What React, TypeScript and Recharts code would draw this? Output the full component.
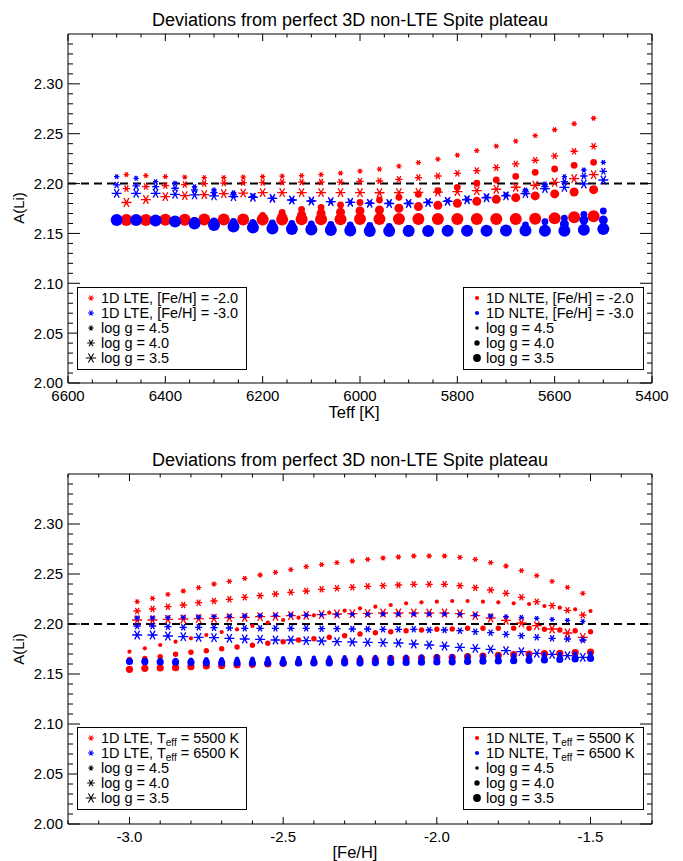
import React from "react";
import { ReferenceArea, ReferenceLine, Scatter, ScatterChart, XAxis, YAxis } from "recharts";

const FONT = '"Liberation Sans", Arial, Helvetica, sans-serif';
const RED = "#ff0000";
const BLUE = "#0000ff";

// ---- upper panel: A(Li) against Teff ----
// red points: [Fe/H] = -2.0, blue points: [Fe/H] = -3.0
const teffFeH2 = [6480, 6440, 6400, 6360, 6320, 6280, 6240, 6200, 6160, 6120, 6080, 6040, 6000, 5960, 5920, 5880, 5840, 5800, 5760, 5720, 5680, 5640, 5600, 5560, 5520];
const teffFeH3 = [6500, 6460, 6420, 6380, 6340, 6300, 6260, 6220, 6180, 6140, 6100, 6060, 6020, 5980, 5940, 5900, 5860, 5820, 5780, 5740, 5700, 5660, 5620, 5580, 5540, 5500];

const lteFeH2g45 = [2.209, 2.208, 2.207, 2.2065, 2.206, 2.206, 2.2065, 2.207, 2.2075, 2.208, 2.209, 2.2105, 2.2125, 2.2145, 2.2175, 2.221, 2.2245, 2.2285, 2.233, 2.2375, 2.2425, 2.248, 2.254, 2.26, 2.2655];
const lteFeH2g40 = [2.195, 2.197, 2.198, 2.199, 2.2, 2.2005, 2.201, 2.201, 2.2015, 2.2015, 2.2015, 2.2015, 2.2022, 2.2026, 2.2043, 2.206, 2.2076, 2.2103, 2.213, 2.216, 2.2197, 2.2234, 2.2277, 2.2324, 2.2374];
const lteFeH2g35 = [2.181, 2.184, 2.187, 2.188, 2.189, 2.19, 2.1905, 2.191, 2.191, 2.191, 2.191, 2.191, 2.1909, 2.1908, 2.191, 2.1912, 2.1915, 2.192, 2.1929, 2.1943, 2.1963, 2.1983, 2.2013, 2.2049, 2.2089];
const nlteFeH2g45 = [2.164, 2.164, 2.164, 2.1645, 2.165, 2.1655, 2.166, 2.168, 2.171, 2.174, 2.176, 2.1785, 2.181, 2.1835, 2.1862, 2.1892, 2.1929, 2.1962, 2.2003, 2.2036, 2.2073, 2.2113, 2.2146, 2.2183, 2.2213];
const nlteFeH2g40 = [2.164, 2.164, 2.164, 2.164, 2.1645, 2.1645, 2.165, 2.1655, 2.167, 2.1685, 2.17, 2.1712, 2.1725, 2.1735, 2.1752, 2.1769, 2.1782, 2.1802, 2.1822, 2.1842, 2.1859, 2.1876, 2.1896, 2.1916, 2.1939];
const nlteFeH2g35 = [2.1635, 2.1635, 2.1638, 2.1638, 2.164, 2.164, 2.164, 2.164, 2.164, 2.1642, 2.1642, 2.1642, 2.1645, 2.1645, 2.1645, 2.1645, 2.1645, 2.1645, 2.1645, 2.1645, 2.1645, 2.1648, 2.1652, 2.1662, 2.1672];

const lteFeH3g45 = [2.2069, 2.2053, 2.202, 2.2003, 2.1969, 2.1936, 2.1909, 2.1876, 2.1852, 2.1835, 2.1825, 2.1819, 2.1812, 2.1806, 2.1804, 2.1806, 2.1815, 2.1829, 2.1845, 2.1865, 2.189, 2.1936, 2.1996, 2.207, 2.2136, 2.2213];
const lteFeH3g40 = [2.1986, 2.1976, 2.197, 2.1953, 2.1936, 2.1909, 2.1886, 2.1869, 2.1852, 2.1835, 2.1825, 2.1819, 2.1812, 2.1805, 2.1802, 2.1802, 2.1812, 2.1825, 2.1842, 2.1862, 2.1882, 2.1916, 2.197, 2.202, 2.2076, 2.2123];
const lteFeH3g35 = [2.1902, 2.1902, 2.1902, 2.1892, 2.1886, 2.1876, 2.1869, 2.1862, 2.1852, 2.1835, 2.1825, 2.1819, 2.1812, 2.1802, 2.18, 2.18, 2.181, 2.1822, 2.1838, 2.1858, 2.1876, 2.19, 2.195, 2.1962, 2.1996, 2.2036];
const nlteFeH3g45 = [2.1645, 2.1645, 2.164, 2.1635, 2.163, 2.1625, 2.162, 2.161, 2.1605, 2.16, 2.1595, 2.159, 2.1585, 2.158, 2.157, 2.155, 2.154, 2.1535, 2.1535, 2.1535, 2.154, 2.1585, 2.1618, 2.1652, 2.1692, 2.1725];
const nlteFeH3g40 = [2.164, 2.164, 2.1635, 2.163, 2.162, 2.161, 2.16, 2.159, 2.158, 2.157, 2.1565, 2.156, 2.1555, 2.155, 2.1545, 2.154, 2.1535, 2.153, 2.153, 2.153, 2.1532, 2.1535, 2.154, 2.1595, 2.1635, 2.1635];
const nlteFeH3g35 = [2.1635, 2.1635, 2.163, 2.162, 2.16, 2.1585, 2.157, 2.156, 2.155, 2.1545, 2.154, 2.1535, 2.153, 2.1525, 2.1525, 2.1525, 2.1525, 2.1528, 2.1528, 2.1528, 2.153, 2.153, 2.1528, 2.1528, 2.1538, 2.1545];

// ---- lower panel: A(Li) against [Fe/H] ----
// red points: Teff = 5500 K, blue points: Teff = 6500 K
const fehLte = [-2.975, -2.925, -2.875, -2.825, -2.775, -2.725, -2.675, -2.625, -2.575, -2.525, -2.475, -2.425, -2.375, -2.325, -2.275, -2.225, -2.175, -2.125, -2.075, -2.025, -1.975, -1.925, -1.875, -1.825, -1.775, -1.725, -1.675, -1.625, -1.575, -1.525];
const fehNlte = [-3.0, -2.95, -2.9, -2.85, -2.8, -2.75, -2.7, -2.65, -2.6, -2.55, -2.5, -2.45, -2.4, -2.35, -2.3, -2.25, -2.2, -2.15, -2.1, -2.05, -2.0, -1.95, -1.9, -1.85, -1.8, -1.75, -1.7, -1.65, -1.6, -1.55, -1.5];

const lteT55g45 = [2.2223, 2.2257, 2.2297, 2.233, 2.2363, 2.24, 2.2427, 2.2457, 2.249, 2.2517, 2.2543, 2.2573, 2.2593, 2.2613, 2.263, 2.2647, 2.266, 2.267, 2.268, 2.268, 2.268, 2.2667, 2.2647, 2.2613, 2.258, 2.2533, 2.2483, 2.2427, 2.2367, 2.2307];
const lteT55g40 = [2.213, 2.215, 2.2173, 2.219, 2.2213, 2.223, 2.2247, 2.2267, 2.2283, 2.23, 2.2317, 2.233, 2.2347, 2.2357, 2.2367, 2.2377, 2.2383, 2.239, 2.2397, 2.2397, 2.2397, 2.2383, 2.2363, 2.234, 2.2307, 2.2267, 2.2223, 2.2183, 2.2137, 2.209];
const lteT55g35 = [2.204, 2.204, 2.2047, 2.205, 2.2053, 2.2057, 2.2063, 2.2067, 2.2073, 2.2077, 2.2083, 2.2087, 2.2093, 2.21, 2.2103, 2.2107, 2.211, 2.211, 2.211, 2.211, 2.211, 2.2103, 2.2083, 2.206, 2.2037, 2.201, 2.1983, 2.195, 2.191, 2.1867];
const nlteT55g45 = [2.1723, 2.1757, 2.179, 2.1823, 2.1857, 2.189, 2.192, 2.1947, 2.198, 2.2013, 2.204, 2.2063, 2.2087, 2.2113, 2.2133, 2.2157, 2.2173, 2.219, 2.2207, 2.2217, 2.2223, 2.223, 2.223, 2.2223, 2.2217, 2.2207, 2.22, 2.218, 2.2163, 2.2147, 2.213];
const nlteT55g40 = [2.1645, 2.1655, 2.1673, 2.1697, 2.1717, 2.1733, 2.1753, 2.177, 2.1787, 2.1807, 2.1823, 2.184, 2.1853, 2.1867, 2.1883, 2.19, 2.1913, 2.1923, 2.1933, 2.194, 2.1947, 2.195, 2.1957, 2.1957, 2.1957, 2.1957, 2.1957, 2.1947, 2.194, 2.1933, 2.1923];
const nlteT55g35 = [2.1547, 2.1557, 2.156, 2.1563, 2.1573, 2.158, 2.1583, 2.159, 2.1597, 2.16, 2.1607, 2.1613, 2.162, 2.1627, 2.1633, 2.164, 2.1647, 2.1653, 2.1655, 2.166, 2.1663, 2.1667, 2.1673, 2.168, 2.1687, 2.1693, 2.17, 2.1703, 2.1707, 2.1713, 2.172];

const lteT65g45 = [2.206, 2.206, 2.2063, 2.2067, 2.207, 2.2073, 2.2077, 2.208, 2.2083, 2.2087, 2.209, 2.209, 2.2093, 2.2093, 2.2097, 2.2097, 2.21, 2.21, 2.21, 2.21, 2.21, 2.2097, 2.209, 2.208, 2.2073, 2.2067, 2.2057, 2.2047, 2.2037, 2.2027];
const lteT65g40 = [2.198, 2.198, 2.1973, 2.1967, 2.1967, 2.1963, 2.196, 2.1957, 2.1957, 2.1957, 2.1957, 2.1957, 2.1953, 2.1953, 2.195, 2.195, 2.1947, 2.1947, 2.1947, 2.194, 2.194, 2.1933, 2.1923, 2.1913, 2.1897, 2.1883, 2.1867, 2.1857, 2.185, 2.184];
const lteT65g35 = [2.189, 2.189, 2.188, 2.1873, 2.1867, 2.1863, 2.1857, 2.185, 2.1847, 2.184, 2.184, 2.1833, 2.183, 2.1823, 2.182, 2.1817, 2.1813, 2.181, 2.18, 2.179, 2.178, 2.1767, 2.1757, 2.1747, 2.1733, 2.1723, 2.1707, 2.1697, 2.1683, 2.1667];
const nlteT65g45 = [2.1638, 2.164, 2.164, 2.1642, 2.1645, 2.1648, 2.165, 2.1653, 2.1655, 2.1658, 2.166, 2.1662, 2.1663, 2.1666, 2.1668, 2.167, 2.1671, 2.1672, 2.1674, 2.1676, 2.1678, 2.168, 2.1683, 2.1686, 2.169, 2.1693, 2.1697, 2.17, 2.1703, 2.1706, 2.171];
const nlteT65g40 = [2.1632, 2.1632, 2.1633, 2.1633, 2.1634, 2.1635, 2.1636, 2.1637, 2.1638, 2.164, 2.164, 2.1641, 2.1642, 2.1643, 2.1644, 2.1645, 2.1646, 2.1647, 2.1648, 2.165, 2.1652, 2.1654, 2.1656, 2.1658, 2.166, 2.1662, 2.1665, 2.1668, 2.167, 2.1675, 2.168];
const nlteT65g35 = [2.1625, 2.1623, 2.162, 2.1618, 2.1616, 2.1614, 2.1612, 2.161, 2.161, 2.161, 2.161, 2.161, 2.161, 2.161, 2.1612, 2.1612, 2.1614, 2.1615, 2.1616, 2.1618, 2.162, 2.1622, 2.1625, 2.1628, 2.163, 2.1633, 2.1637, 2.164, 2.1645, 2.165, 2.1655];

// axis ticks
const yMajor = [2.0, 2.05, 2.1, 2.15, 2.2, 2.25, 2.3];
const teffMajor = [5400, 5600, 5800, 6000, 6200, 6400, 6600];
const fehMajor = [-3.0, -2.5, -2.0, -1.5];
const yTicks = Array.from({ length: 35 }, (_, i) => +(2 + i * 0.01).toFixed(2));
const teffTicks = Array.from({ length: 25 }, (_, i) => 5400 + i * 50);
const fehTicks = Array.from({ length: 20 }, (_, i) => +(-3.2 + i * 0.1).toFixed(1));

const PLOT_W = 584;

type Series = { name: string; xs: number[]; ys: number[]; kind: "star" | "dot"; r: number; color: string };

function Asterisk({ cx, cy, r, color, w = 1.3 }: { cx: number; cy: number; r: number; color: string; w?: number }) {
  const dx = r * 0.5;
  const dy = r * 0.866;
  return (
    <path
      d={`M${cx - r},${cy}L${cx + r},${cy}M${cx - dx},${cy - dy}L${cx + dx},${cy + dy}M${cx - dx},${cy + dy}L${cx + dx},${cy - dy}`}
      stroke={color}
      strokeWidth={w}
      fill="none"
    />
  );
}

const isIn = (list: number[], v: number) => list.some((m) => Math.abs(m - v) < 1e-6);

function makeYTick() {
  return (p: any) => {
    const v = p.payload.value;
    const major = isIn(yMajor, v);
    const len = major ? 12 : 5;
    return (
      <g>
        <line x1={p.x} y1={p.y} x2={p.x + len} y2={p.y} stroke="#000" />
        <line x1={p.x + PLOT_W} y1={p.y} x2={p.x + PLOT_W - len} y2={p.y} stroke="#000" />
        {major && (
          <text x={p.x - 5} y={p.y} dy="0.36em" textAnchor="end" fontSize={15} fontFamily={FONT} fill="#000">
            {v.toFixed(2)}
          </text>
        )}
      </g>
    );
  };
}

function makeXTick(plotH: number, majors: number[], digits: number) {
  return (p: any) => {
    const v = p.payload.value;
    const major = isIn(majors, v);
    const len = major ? 7 : 3.5;
    return (
      <g>
        <line x1={p.x} y1={p.y} x2={p.x} y2={p.y - len} stroke="#000" />
        <line x1={p.x} y1={p.y - plotH} x2={p.x} y2={p.y - plotH + len} stroke="#000" />
        {major && (
          <text x={p.x} y={p.y + 18} textAnchor="middle" fontSize={15} fontFamily={FONT} fill="#000">
            {v.toFixed(digits)}
          </text>
        )}
      </g>
    );
  };
}

type PanelProps = {
  height: number;
  bottom: number;
  xAxisHeight: number;
  xDomain: [number, number];
  reversed: boolean;
  xTicks: number[];
  xMajor: number[];
  digits: number;
  series: Series[];
};

function Panel({ height, bottom, xAxisHeight, xDomain, reversed, xTicks, xMajor, digits, series }: PanelProps) {
  const plotH = height - 34 - bottom - xAxisHeight;
  return (
    <ScatterChart width={683} height={height} margin={{ top: 34, right: 31, bottom, left: 0 }}>
      <XAxis
        type="number"
        dataKey="x"
        domain={xDomain}
        reversed={reversed}
        allowDataOverflow
        ticks={xTicks}
        interval={0}
        tickSize={0}
        tickMargin={0}
        axisLine={false}
        height={xAxisHeight}
        tick={makeXTick(plotH, xMajor, digits)}
      />
      <YAxis
        type="number"
        dataKey="y"
        domain={[2, 2.35]}
        allowDataOverflow
        ticks={yTicks}
        interval={0}
        tickSize={0}
        tickMargin={0}
        axisLine={false}
        width={68}
        tick={makeYTick()}
      />
      <ReferenceArea x1={xDomain[0]} x2={xDomain[1]} y1={2} y2={2.35} fill="none" stroke="#000" strokeWidth={1} />
      <ReferenceLine y={2.2} stroke="#000" strokeWidth={2} strokeDasharray="8 5" />
      {series.map((s) => (
        <Scatter
          key={s.name}
          name={s.name}
          data={s.xs.map((x, i) => ({ x, y: s.ys[i] }))}
          isAnimationActive={false}
          shape={(p: any) =>
            s.kind === "star" ? (
              <Asterisk cx={p.cx} cy={p.cy} r={s.r} color={s.color} />
            ) : (
              <circle cx={p.cx} cy={p.cy} r={s.r} fill={s.color} />
            )
          }
        />
      ))}
    </ScatterChart>
  );
}

const topSeries: Series[] = [
  { name: "lte2_45", xs: teffFeH2, ys: lteFeH2g45, kind: "star", r: 2.7, color: RED },
  { name: "lte2_40", xs: teffFeH2, ys: lteFeH2g40, kind: "star", r: 3.7, color: RED },
  { name: "lte2_35", xs: teffFeH2, ys: lteFeH2g35, kind: "star", r: 5, color: RED },
  { name: "lte3_45", xs: teffFeH3, ys: lteFeH3g45, kind: "star", r: 2.7, color: BLUE },
  { name: "lte3_40", xs: teffFeH3, ys: lteFeH3g40, kind: "star", r: 3.7, color: BLUE },
  { name: "lte3_35", xs: teffFeH3, ys: lteFeH3g35, kind: "star", r: 5, color: BLUE },
  { name: "nlte2_35", xs: teffFeH2, ys: nlteFeH2g35, kind: "dot", r: 6, color: RED },
  { name: "nlte2_40", xs: teffFeH2, ys: nlteFeH2g40, kind: "dot", r: 4.5, color: RED },
  { name: "nlte2_45", xs: teffFeH2, ys: nlteFeH2g45, kind: "dot", r: 3.4, color: RED },
  { name: "nlte3_35", xs: teffFeH3, ys: nlteFeH3g35, kind: "dot", r: 6, color: BLUE },
  { name: "nlte3_40", xs: teffFeH3, ys: nlteFeH3g40, kind: "dot", r: 4.5, color: BLUE },
  { name: "nlte3_45", xs: teffFeH3, ys: nlteFeH3g45, kind: "dot", r: 3.4, color: BLUE },
];

const bottomSeries: Series[] = [
  { name: "lte55_45", xs: fehLte, ys: lteT55g45, kind: "star", r: 2.7, color: RED },
  { name: "lte55_40", xs: fehLte, ys: lteT55g40, kind: "star", r: 3.6, color: RED },
  { name: "lte55_35", xs: fehLte, ys: lteT55g35, kind: "star", r: 5, color: RED },
  { name: "lte65_45", xs: fehLte, ys: lteT65g45, kind: "star", r: 2.7, color: BLUE },
  { name: "lte65_40", xs: fehLte, ys: lteT65g40, kind: "star", r: 3.6, color: BLUE },
  { name: "lte65_35", xs: fehLte, ys: lteT65g35, kind: "star", r: 5, color: BLUE },
  { name: "nlte55_35", xs: fehNlte, ys: nlteT55g35, kind: "dot", r: 3.6, color: RED },
  { name: "nlte55_40", xs: fehNlte, ys: nlteT55g40, kind: "dot", r: 2.7, color: RED },
  { name: "nlte55_45", xs: fehNlte, ys: nlteT55g45, kind: "dot", r: 2.1, color: RED },
  { name: "nlte65_35", xs: fehNlte, ys: nlteT65g35, kind: "dot", r: 3.6, color: BLUE },
  { name: "nlte65_40", xs: fehNlte, ys: nlteT65g40, kind: "dot", r: 2.7, color: BLUE },
  { name: "nlte65_45", xs: fehNlte, ys: nlteT65g45, kind: "dot", r: 2.1, color: BLUE },
];

type Row = { mark: (cx: number, cy: number) => React.ReactNode; label: React.ReactNode };

function LegendRows({ top, symX, textX, rows }: { top: number; symX: number; textX: number; rows: Row[] }) {
  return (
    <g>
      {rows.map((row, i) => {
        const cy = top + i * 15;
        return (
          <g key={i}>
            {row.mark(symX, cy)}
            <text x={textX} y={cy + 5.2} fontSize={14.5} fontFamily={FONT} fill="#000">
              {row.label}
            </text>
          </g>
        );
      })}
    </g>
  );
}

const star = (r: number, color: string) => (cx: number, cy: number) => <Asterisk cx={cx} cy={cy} r={r} color={color} w={1.1} />;
const dot = (r: number, color: string) => (cx: number, cy: number) => <circle cx={cx} cy={cy} r={r} fill={color} />;

const teffLabel = (t: string) => (
  <>
    T<tspan fontSize={10} dy={3}>eff</tspan>
    <tspan dy={-3}>{` = ${t} K`}</tspan>
  </>
);

function Overlay() {
  const gRows = (mk: typeof star, sizes: number[]): Row[] => [
    { mark: mk(sizes[0], "#000"), label: "log g = 4.5" },
    { mark: mk(sizes[1], "#000"), label: "log g = 4.0" },
    { mark: mk(sizes[2], "#000"), label: "log g = 3.5" },
  ];
  return (
    <svg width={683} height={861} style={{ position: "absolute", left: 0, top: 0, pointerEvents: "none" }}>
      <text x={350} y={26} textAnchor="middle" fontSize={18} fontFamily={FONT}>
        Deviations from perfect 3D non-LTE Spite plateau
      </text>
      <text x={350} y={466} textAnchor="middle" fontSize={18} fontFamily={FONT}>
        Deviations from perfect 3D non-LTE Spite plateau
      </text>
      <text x={19} y={208} dy="0.36em" textAnchor="middle" fontSize={15} fontFamily={FONT} transform="rotate(-90 19 208)">
        A(Li)
      </text>
      <text x={19} y={649} dy="0.36em" textAnchor="middle" fontSize={15} fontFamily={FONT} transform="rotate(-90 19 649)">
        A(Li)
      </text>
      <text x={354} y={418} textAnchor="middle" fontSize={16.5} fontFamily={FONT}>
        Teff [K]
      </text>
      <text x={355} y={858} textAnchor="middle" fontSize={16.5} fontFamily={FONT}>
        [Fe/H]
      </text>

      <rect x={77.5} y={287.5} width={169} height={82} fill="#fff" stroke="#000" />
      <LegendRows
        top={298}
        symX={91}
        textX={101}
        rows={[
          { mark: star(3, RED), label: "1D LTE, [Fe/H] = -2.0" },
          { mark: star(3, BLUE), label: "1D LTE, [Fe/H] = -3.0" },
          ...gRows(star, [2.8, 3.8, 5.2]),
        ]}
      />
      <rect x={463.5} y={287.5} width={180} height={82} fill="#fff" stroke="#000" />
      <LegendRows
        top={298}
        symX={477}
        textX={486}
        rows={[
          { mark: dot(2.1, RED), label: "1D NLTE, [Fe/H] = -2.0" },
          { mark: dot(2.1, BLUE), label: "1D NLTE, [Fe/H] = -3.0" },
          ...gRows(dot, [1.8, 2.7, 3.9]),
        ]}
      />

      <rect x={77.5} y={727.5} width={169} height={82} fill="#fff" stroke="#000" />
      <LegendRows
        top={738}
        symX={91}
        textX={101}
        rows={[
          { mark: star(3, RED), label: <>1D LTE, {teffLabel("5500")}</> },
          { mark: star(3, BLUE), label: <>1D LTE, {teffLabel("6500")}</> },
          ...gRows(star, [2.8, 3.8, 5.2]),
        ]}
      />
      <rect x={463.5} y={727.5} width={180} height={82} fill="#fff" stroke="#000" />
      <LegendRows
        top={738}
        symX={477}
        textX={486}
        rows={[
          { mark: dot(2.1, RED), label: <>1D NLTE, {teffLabel("5500")}</> },
          { mark: dot(2.1, BLUE), label: <>1D NLTE, {teffLabel("6500")}</> },
          ...gRows(dot, [1.8, 2.7, 3.9]),
        ]}
      />
    </svg>
  );
}

export default function App() {
  return (
    <div style={{ position: "absolute", left: 0, top: 0, width: 683, height: 861, background: "#fff", fontFamily: FONT }}>
      <div style={{ position: "absolute", left: 0, top: 0 }}>
        <Panel
          height={440}
          bottom={17}
          xAxisHeight={40}
          xDomain={[5400, 6600]}
          reversed
          xTicks={teffTicks}
          xMajor={teffMajor}
          digits={0}
          series={topSeries}
        />
      </div>
      <div style={{ position: "absolute", left: 0, top: 440 }}>
        <Panel
          height={421}
          bottom={0}
          xAxisHeight={37}
          xDomain={[-3.2, -1.3]}
          reversed={false}
          xTicks={fehTicks}
          xMajor={fehMajor}
          digits={1}
          series={bottomSeries}
        />
      </div>
      <Overlay />
    </div>
  );
}
